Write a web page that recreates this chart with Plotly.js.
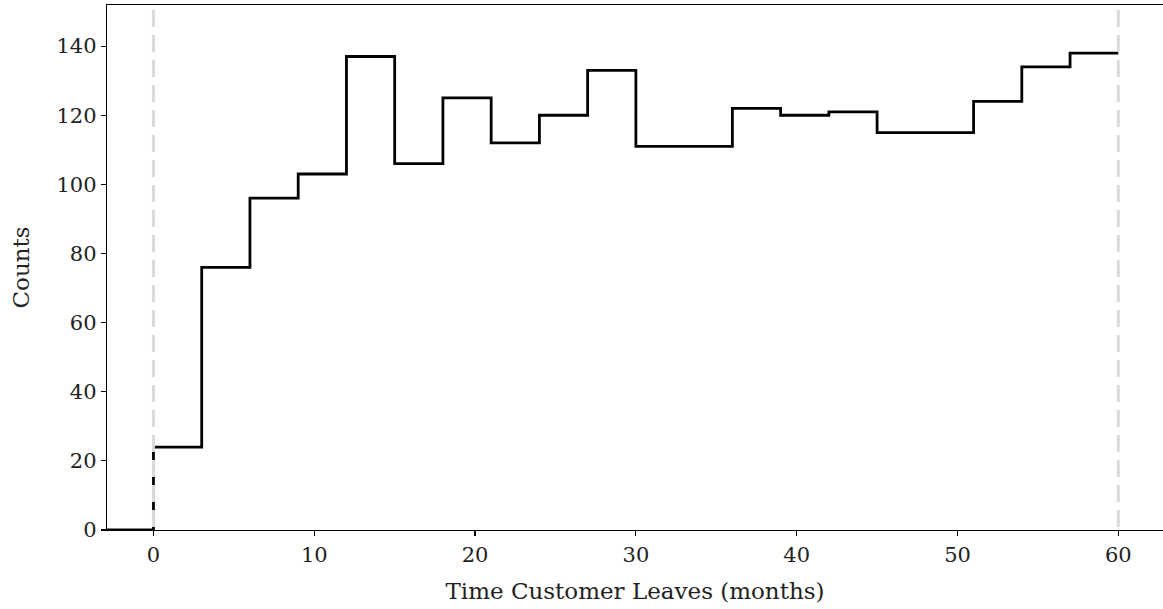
<!DOCTYPE html>
<html>
<head>
<meta charset="utf-8">
<script src="https://cdn.plot.ly/plotly-3.0.1.min.js"></script>
<style>html,body{margin:0;padding:0;background:#fff;}#chart{width:1163px;height:609px;}</style>
</head>
<body>
<div id="chart"></div>
<script>
// Bin left edges (months) and counts (step, where='post')
const binEdges = [-3, 0, 3, 6, 9, 12, 15, 18, 21, 24, 27, 30, 33, 36, 39, 42, 45, 48, 51, 54, 57, 60];
const counts   = [0, 24, 76, 96, 103, 137, 106, 125, 112, 120, 133, 111, 111, 122, 120, 121, 115, 115, 124, 134, 138, 138];
const markerLines = [0, 60];
const xTicks = [0, 10, 20, 30, 40, 50, 60];
const yTicks = [0, 20, 40, 60, 80, 100, 120, 140];

const fontFam = "DejaVu Serif, serif";
const fs = 21;

const trace = {
  x: binEdges,
  y: counts,
  type: "scatter",
  mode: "lines",
  line: {shape: "hv", color: "#000000", width: 2.8},
  hoverinfo: "skip",
  showlegend: false
};

const shapes = markerLines.map(v => ({
  type: "line", xref: "x", yref: "paper",
  x0: v, x1: v, y0: 0.9905, y1: 0,
  line: {color: "#dadada", width: 3, dash: "17px,8px"},
  layer: "above"
}));

const layout = {
  width: 1163, height: 609,
  margin: {l: 107, r: 0, t: 5, b: 79},
  paper_bgcolor: "#ffffff", plot_bgcolor: "#ffffff",
  font: {family: fontFam, color: "#222222", size: fs},
  xaxis: {
    range: [-2.89, 62.78],
    tickvals: xTicks, ticktext: xTicks.map(String),
    ticks: "outside", ticklen: 5, tickwidth: 1.2, tickcolor: "#000",
    showline: true, linecolor: "#000", linewidth: 1.3, mirror: true,
    showgrid: false, zeroline: false,
    tickfont: {family: fontFam, size: fs, color: "#222"},
    title: {text: "Time Customer Leaves (months)", font: {family: fontFam, size: 23, color: "#222"}, standoff: 17}
  },
  yaxis: {
    range: [0, 151.9],
    tickvals: yTicks, ticktext: yTicks.map(String),
    ticks: "outside", ticklen: 5, tickwidth: 1.2, tickcolor: "#000",
    showline: true, linecolor: "#000", linewidth: 1.3,
    showgrid: false, zeroline: false,
    tickfont: {family: fontFam, size: fs, color: "#222"},
    title: {text: "Counts", font: {family: fontFam, size: 23, color: "#222"}, standoff: 20}
  },
  shapes: shapes
};

Plotly.newPlot("chart", [trace], layout, {displayModeBar: false, staticPlot: true});
</script>
</body>
</html>
